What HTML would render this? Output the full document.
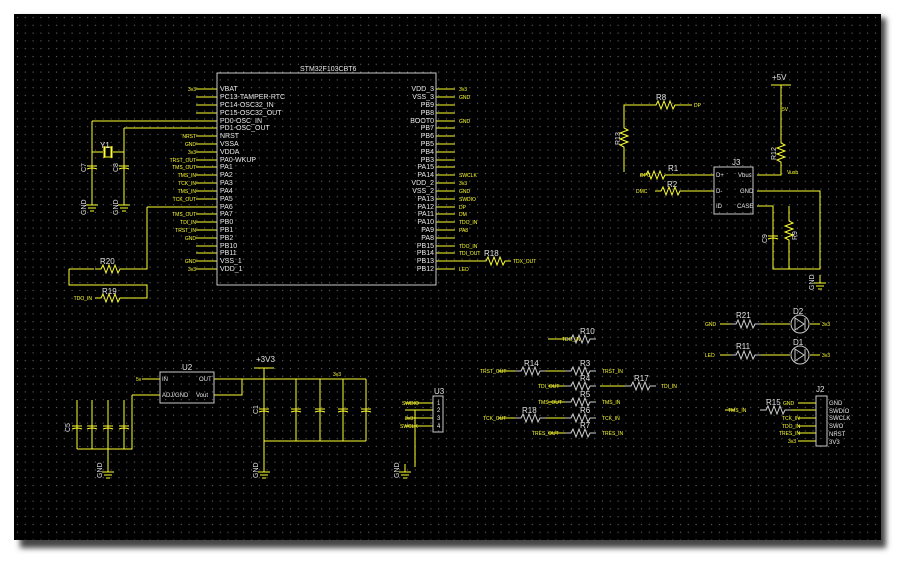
<!DOCTYPE html>
<html><head><meta charset="utf-8"><style>
html,body{margin:0;padding:0;background:#fff;width:903px;height:565px;overflow:hidden}
svg{display:block}
text{font-family:"Liberation Sans",sans-serif}
.w{fill:#e8e8e8;font-size:7px}
.y{fill:#ffff30;font-size:5px}
.l{fill:#e0e0e0;font-size:8px}
.n{fill:#ffff30;font-size:4.5px}
</style></head><body>
<svg width="903" height="565" viewBox="0 0 903 565">
<defs>
<pattern id="g" width="7.8" height="7.8" patternUnits="userSpaceOnUse" x="14" y="14"><rect x="3" y="3" width="1" height="1" fill="#7a7a7a"/></pattern>
<filter id="sh"><feGaussianBlur stdDeviation="3"/></filter>
<g id="res"><path d="M0,0h6l2,-4l3,8l3,-8l3,8l3,-8l3,8l2,-4h6" fill="none" stroke="#ffff30" stroke-width="1"/></g>
<g id="resw"><path d="M0,0h6l2,-4l3,8l3,-8l3,8l3,-8l3,8l2,-4h6" fill="none" stroke="#d0d0d0" stroke-width="1"/></g>
<g id="cap"><path d="M0,-6v5M-5,-1h10M-5,2q5,-2 10,0M0,1v5" fill="none" stroke="#ffff30" stroke-width="1"/></g>
<g id="gnd"><path d="M0,-8v8M-6,0h12M-4,3h8M-2,6h4" fill="none" stroke="#ffff30" stroke-width="1"/></g>
</defs>
<rect x="20" y="18" width="866" height="530" fill="#444" filter="url(#sh)"/>
<rect x="14" y="14" width="867" height="526" fill="#000"/>
<rect x="14" y="14" width="867" height="526" fill="url(#g)"/>
<g stroke="#ffff30" stroke-width="1" fill="none">
<!-- chip pins left -->
<path d="M196,89h21M196,97h21M196,105h21M196,113h21M92,121h125M124,128h93M196,136h21M196,144h21M196,152h21M196,160h21M196,167h21M196,175h21M196,183h21M196,191h21M196,199h21M147,207h70M196,214h21M196,222h21M196,230h21M196,238h21M196,246h21M196,253h21M196,261h21M196,269h21"/>
<path d="M436,89h19M436,97h19M436,105h19M436,113h19M436,121h19M436,128h19M436,136h19M436,144h19M436,152h19M436,160h19M436,167h19M436,175h19M436,183h19M436,191h19M436,199h19M436,207h19M436,214h19M436,222h19M436,230h19M436,238h19M436,246h19M436,253h19M436,261h19M436,269h19"/>
<!-- crystal -->
<path d="M92,121v82M124,128v75M92,152h11M113,152h11M104,146v12M112,146v12"/>
<rect x="105" y="147" width="6" height="10"/>
<path d="M147,207v62h-24M69,269v16h78v13h-24M94,269h-25"/>
<!-- right-top usb -->
<path d="M650,105h-26v17M624,150v22M680,105h12M670,175h44M684,191h30M757,175h24v-9M781,137v-52M771,85h20M757,191h63v78h-47v-63h-16M789,206v9M789,245v24"/>
<path d="M480,261h-25"/>
<!-- regulator -->
<path d="M142,379h18M132,395h28M214,379h152M214,395h28v-16M264,368v102M254,368h20M296,379v62M320,379v62M343,379v62M366,379v62M264,441h102M77,449h55v-54M77,400v49M92,400v49M108,400v70M124,400v49"/>
<path d="M405,418h28v0M405,410h28M405,403h28M405,426h28M415,410v57"/>
<!-- resistor bank -->
<path d="M548,339h17M545,371h20M548,386h17M600,386h25M548,402h17M545,418h20M548,433h17M498,371h17M498,418h17"/>
<path d="M720,324h10M760,324h30M720,355h10M760,355h30M810,324h10M810,355h10M790,410h26M798,403h18M798,418h18M798,426h18M798,433h18M798,441h18M735,410h-10"/>
</g>
<g>
<use href="#res" x="650" y="105"/><use href="#res" x="640" y="175"/><use href="#res" x="655" y="191"/>
<use href="#res" x="95" y="269"/><use href="#res" x="95" y="298"/><use href="#res" x="480" y="261"/>
<use href="#res" x="624" y="122" transform="rotate(90 624 122) translate(0,0)"/>
<use href="#res" x="781" y="137" transform="rotate(90 781 137)"/>
<use href="#res" x="789" y="215" transform="rotate(90 789 215)"/>
<use href="#resw" x="565" y="339"/><use href="#resw" x="515" y="371"/><use href="#resw" x="565" y="371"/>
<use href="#resw" x="565" y="386"/><use href="#resw" x="625" y="386"/><use href="#resw" x="565" y="402"/>
<use href="#resw" x="515" y="418"/><use href="#resw" x="565" y="418"/><use href="#resw" x="565" y="433"/>
<use href="#resw" x="730" y="324"/><use href="#resw" x="730" y="355"/><use href="#resw" x="760" y="410"/>
<use href="#cap" x="92" y="167"/><use href="#cap" x="124" y="167"/>
<use href="#cap" x="773" y="237"/>
<use href="#cap" x="77" y="427"/><use href="#cap" x="92" y="427"/><use href="#cap" x="108" y="427"/><use href="#cap" x="124" y="427"/>
<use href="#cap" x="264" y="410"/><use href="#cap" x="296" y="410"/><use href="#cap" x="320" y="410"/><use href="#cap" x="343" y="410"/><use href="#cap" x="366" y="410"/>
<use href="#gnd" x="92" y="205"/><use href="#gnd" x="124" y="205"/><use href="#gnd" x="820" y="283"/>
<use href="#gnd" x="108" y="472"/><use href="#gnd" x="264" y="472"/><use href="#gnd" x="405" y="472"/>
</g>
<g fill="none" stroke="#c8c8c8" stroke-width="1">
<rect x="217" y="73" width="219" height="212"/>
<rect x="714" y="167" width="39" height="47"/>
<rect x="160" y="372" width="54" height="31"/>
<rect x="433" y="396" width="10" height="36"/>
<rect x="816" y="396" width="11" height="50"/>
<circle cx="800" cy="324" r="9"/><circle cx="800" cy="355" r="9"/>
<path d="M795,318v12l9,-6zM805,318v12M795,349v12l9,-6zM805,349v12"/>
</g>
<g class="w">
<text x="300" y="71">STM32F103CBT6</text>
<text x="220" y="91">VBAT</text><text x="220" y="99">PC13-TAMPER-RTC</text><text x="220" y="107">PC14-OSC32_IN</text><text x="220" y="115">PC15-OSC32_OUT</text><text x="220" y="123">PD0-OSC_IN</text><text x="220" y="130">PD1-OSC_OUT</text><text x="220" y="138">NRST</text><text x="220" y="146">VSSA</text><text x="220" y="154">VDDA</text><text x="220" y="162">PA0-WKUP</text><text x="220" y="169">PA1</text><text x="220" y="177">PA2</text><text x="220" y="185">PA3</text><text x="220" y="193">PA4</text><text x="220" y="201">PA5</text><text x="220" y="209">PA6</text><text x="220" y="216">PA7</text><text x="220" y="224">PB0</text><text x="220" y="232">PB1</text><text x="220" y="240">PB2</text><text x="220" y="248">PB10</text><text x="220" y="255">PB11</text><text x="220" y="263">VSS_1</text><text x="220" y="271">VDD_1</text>
</g>
<g class="w" text-anchor="end">
<text x="434" y="91">VDD_3</text><text x="434" y="99">VSS_3</text><text x="434" y="107">PB9</text><text x="434" y="115">PB8</text><text x="434" y="123">BOOT0</text><text x="434" y="130">PB7</text><text x="434" y="138">PB6</text><text x="434" y="146">PB5</text><text x="434" y="154">PB4</text><text x="434" y="162">PB3</text><text x="434" y="169">PA15</text><text x="434" y="177">PA14</text><text x="434" y="185">VDD_2</text><text x="434" y="193">VSS_2</text><text x="434" y="201">PA13</text><text x="434" y="209">PA12</text><text x="434" y="216">PA11</text><text x="434" y="224">PA10</text><text x="434" y="232">PA9</text><text x="434" y="240">PA8</text><text x="434" y="248">PB15</text><text x="434" y="255">PB14</text><text x="434" y="263">PB13</text><text x="434" y="271">PB12</text>
</g>
<g class="y" text-anchor="end">
<text x="196" y="91">3v3</text><text x="196" y="138">NRST</text><text x="196" y="146">GND</text><text x="196" y="154">3v3</text><text x="196" y="162">TRST_OUT</text><text x="196" y="169">TMS_OUT</text><text x="196" y="177">TMS_IN</text><text x="196" y="185">TCK_IN</text><text x="196" y="193">TMS_IN</text><text x="196" y="201">TCK_OUT</text><text x="196" y="216">TMS_OUT</text><text x="196" y="224">TDI_IN</text><text x="196" y="232">TRST_IN</text><text x="196" y="240">GND</text><text x="196" y="263">GND</text><text x="196" y="271">3v3</text>
<text x="92" y="300">TDO_IN</text>
</g>
<g class="y">
<text x="459" y="91">3v3</text><text x="459" y="99">GND</text><text x="459" y="123">GND</text><text x="459" y="177">SWCLK</text><text x="459" y="185">3v3</text><text x="459" y="193">GND</text><text x="459" y="201">SWDIO</text><text x="459" y="209">DP</text><text x="459" y="216">DM</text><text x="459" y="224">TDO_IN</text><text x="459" y="232">PA8</text><text x="459" y="248">TDO_IN</text><text x="459" y="255">TDI_OUT</text><text x="459" y="271">LED</text>
<text x="513" y="263">TDX_OUT</text><text x="694" y="107">DP</text><text x="782" y="111">5V</text><text x="787" y="174">Vusb</text>
<text x="562" y="341">TDO_IN</text><text x="480" y="373">TRST_OUT</text><text x="602" y="373">TRST_IN</text><text x="538" y="388">TDI_OUT</text><text x="661" y="388">TDI_IN</text><text x="538" y="404">TMS_OUT</text><text x="602" y="404">TMS_IN</text><text x="483" y="420">TCK_OUT</text><text x="602" y="420">TCK_IN</text><text x="532" y="435">TRES_OUT</text><text x="602" y="435">TRES_IN</text>
<text x="705" y="326">GND</text><text x="705" y="357">LED</text><text x="822" y="326">3v3</text><text x="822" y="357">3v3</text>
<text x="728" y="412">TMS_IN</text><text x="783" y="405">GND</text><text x="782" y="420">TCK_IN</text><text x="782" y="428">TDO_IN</text><text x="779" y="435">TRES_IN</text><text x="788" y="443">3v3</text>
<text x="136" y="381">5v</text><text x="333" y="376">3v3</text><text x="402" y="405">SWDIO</text><text x="405" y="420">3v3</text><text x="400" y="428">SWCLK</text>
<text x="640" y="177">DPC</text><text x="636" y="193">DMC</text>
</g>
<g class="l">
<text x="656" y="100">R8</text><text x="668" y="171">R1</text><text x="667" y="187">R2</text><text x="732" y="165">J3</text><text x="772" y="80">+5V</text>
<text x="100" y="264">R20</text><text x="102" y="294">R19</text><text x="484" y="256">R18</text>
<text x="182" y="370">U2</text><text x="256" y="362">+3V3</text><text x="434" y="394">U3</text>
<text x="580" y="334">R10</text><text x="524" y="366">R14</text><text x="580" y="366">R3</text><text x="580" y="381">R4</text><text x="634" y="381">R17</text><text x="580" y="397">R5</text><text x="522" y="413">R18</text><text x="580" y="413">R6</text><text x="580" y="428">R7</text>
<text x="736" y="318">R21</text><text x="736" y="349">R11</text><text x="793" y="314">D2</text><text x="793" y="345">D1</text><text x="766" y="405">R15</text><text x="816" y="392">J2</text>
<text x="100" y="148">Y1</text>
</g>
<g class="w" style="font-size:6px">
<text x="162" y="381">IN</text><text x="162" y="397">ADJ/GND</text><text x="199" y="381">OUT</text><text x="196" y="397">Vout</text>
<text x="716" y="177">D+</text><text x="716" y="193">D-</text><text x="716" y="208">ID</text><text x="738" y="177">Vbus</text><text x="740" y="193">GND</text><text x="737" y="208">CASE</text>
<text x="437" y="405">1</text><text x="437" y="412">2</text><text x="437" y="420">3</text><text x="437" y="428">4</text>
<text x="829" y="405">GND</text><text x="829" y="413">SWDIO</text><text x="829" y="420">SWCLK</text><text x="829" y="428">SWO</text><text x="829" y="436">NRST</text><text x="829" y="444">3V3</text>
</g>
<g class="l" style="font-size:7px">
<text transform="translate(86,172) rotate(-90)">C7</text><text transform="translate(118,172) rotate(-90)">C8</text>
<text transform="translate(86,215) rotate(-90)">GND</text><text transform="translate(118,215) rotate(-90)">GND</text>
<text transform="translate(620,145) rotate(-90)">R13</text><text transform="translate(776,160) rotate(-90)">R12</text><text transform="translate(797,240) rotate(-90)">R9</text><text transform="translate(767,243) rotate(-90)">C9</text>
<text transform="translate(814,290) rotate(-90)">GND</text><text transform="translate(102,478) rotate(-90)">GND</text><text transform="translate(258,478) rotate(-90)">GND</text><text transform="translate(399,478) rotate(-90)">GND</text>
<text transform="translate(70,432) rotate(-90)">C5</text><text transform="translate(258,414) rotate(-90)">C1</text>
</g>
</svg>
</body></html>
